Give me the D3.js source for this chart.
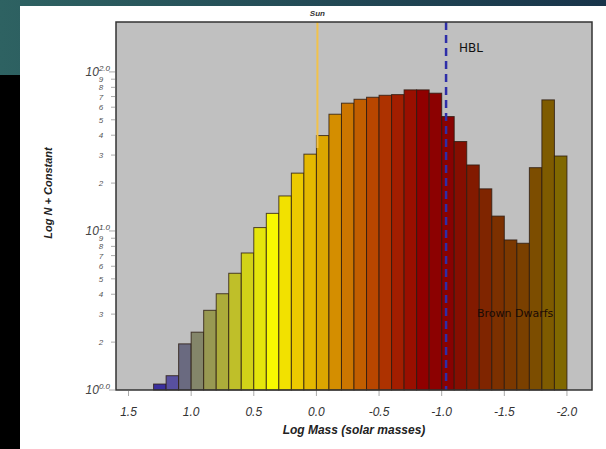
<!DOCTYPE html>
<html>
<head>
<meta charset="utf-8">
<script src="https://cdn.jsdelivr.net/npm/d3@7"></script>
<style>
  body { margin: 0; background: #fff; }
  svg { display: block; }
</style>
</head>
<body>
<div id="chart"></div>
<script>
// bin left edges (log mass), each bin is 0.1 wide going to smaller masses
var binStart = [1.3, 1.2, 1.1, 1.0, 0.9, 0.8, 0.7, 0.6, 0.5, 0.4, 0.3, 0.2, 0.1, 0.0,
  -0.1, -0.2, -0.3, -0.4, -0.5, -0.6, -0.7, -0.8, -0.9, -1.0, -1.1, -1.2, -1.3,
  -1.4, -1.5, -1.6, -1.7, -1.8, -1.9];
// counts (log N + constant)
var counts = [1.09, 1.23, 1.95, 2.31, 3.17, 4.03, 5.42, 7.27, 10.5, 12.9, 16.6, 23.1, 30.4, 39.8,
  54.2, 63.6, 67.3, 69.3, 71.3, 72.0, 77.1, 77.1, 73.5, 52.4, 36.5, 26.0, 18.4,
  12.4, 8.78, 8.37, 25.0, 66.7, 29.6];
var xTicks = [1.5, 1.0, 0.5, 0.0, -0.5, -1.0, -1.5, -2.0];
var yMajor = [1, 10, 100];
var yMinor = [2, 3, 4, 5, 6, 7, 8, 9, 20, 30, 40, 50, 60, 70, 80, 90];
var sunMass = 0.0;
var hblMass = -1.035;

var width = 606, height = 449;
var plotLeft = 116, plotRight = 592, plotTop = 22, plotBottom = 390;

var svg = d3.select("#chart").append("svg")
    .attr("width", width)
    .attr("height", height);

// slide background
var grad = svg.append("defs").append("linearGradient").attr("id", "band");
grad.append("stop").attr("offset", "0%").attr("stop-color", "#2e6262");
grad.append("stop").attr("offset", "100%").attr("stop-color", "#18344a");
svg.append("rect").attr("width", width).attr("height", height).attr("fill", "#000");
svg.append("rect").attr("width", width).attr("height", 75).attr("fill", "url(#band)");
svg.append("rect").attr("x", 20).attr("y", 6).attr("width", width - 20).attr("height", height - 6).attr("fill", "#fff");

// scales
var x = d3.scaleLinear().domain([1.6, -2.2]).range([plotLeft, plotRight]);
var y = d3.scaleLog().domain([1, 206]).range([plotBottom, plotTop]);

var color = d3.scaleLinear()
    .domain([1.3, 1.2, 1.1, 1.0, 0.8, 0.6, 0.4, 0.2, 0.0, -0.2, -0.4, -0.6, -0.8, -1.0, -1.2, -1.4, -1.6, -1.9])
    .range(["#3a2f9e", "#5850a0", "#6a6a80", "#84866a", "#acac3a", "#d2d218", "#f8f800", "#ecca00",
      "#dca600", "#cc7600", "#b84600", "#a21e00", "#900000", "#880202", "#821a00", "#7c3000", "#7a4000", "#806800"]);

// plot area
svg.append("rect")
    .attr("x", plotLeft).attr("y", plotTop)
    .attr("width", plotRight - plotLeft).attr("height", plotBottom - plotTop)
    .attr("fill", "#c0c0c0");

// bars
svg.append("g")
    .selectAll("rect")
    .data(binStart)
    .enter()
    .append("rect")
    .attr("x", function (d) { return x(d); })
    .attr("width", function (d) { return x(d - 0.1) - x(d); })
    .attr("y", function (d, i) { return y(counts[i]); })
    .attr("height", function (d, i) { return y(1) - y(counts[i]); })
    .attr("fill", function (d) { return color(d); })
    .attr("stroke", "#2a1a10")
    .attr("stroke-opacity", 0.8)
    .attr("stroke-width", 1);

// Sun line
svg.append("line")
    .attr("x1", x(sunMass) + 1).attr("x2", x(sunMass) + 1)
    .attr("y1", plotTop).attr("y2", 148)
    .attr("stroke", "#f2c24a")
    .attr("stroke-width", 2);
svg.append("text")
    .attr("x", x(sunMass) + 1).attr("y", 16)
    .attr("text-anchor", "middle")
    .style("font", "italic bold 8px 'Liberation Sans', Arial, sans-serif")
    .attr("fill", "#333")
    .text("Sun");

// HBL line
svg.append("line")
    .attr("x1", x(hblMass)).attr("x2", x(hblMass))
    .attr("y1", plotTop).attr("y2", plotBottom)
    .attr("stroke", "#2e2ea8")
    .attr("stroke-width", 2.5)
    .attr("stroke-dasharray", "8,5");
svg.append("text")
    .attr("x", 459).attr("y", 52)
    .style("font", "12px 'DejaVu Sans', sans-serif")
    .attr("fill", "#111")
    .text("HBL");
svg.append("text")
    .attr("x", 477).attr("y", 317)
    .style("font", "11px 'DejaVu Sans', sans-serif")
    .attr("fill", "#1a0a05")
    .text("Brown Dwarfs");

// frame
svg.append("rect")
    .attr("x", plotLeft).attr("y", plotTop)
    .attr("width", plotRight - plotLeft).attr("height", plotBottom - plotTop)
    .attr("fill", "none")
    .attr("stroke", "#333")
    .attr("stroke-width", 1.5);

// y axis ticks and labels
svg.append("g").selectAll("line")
    .data(yMajor.concat(yMinor))
    .enter().append("line")
    .attr("x1", function (d) { return yMajor.indexOf(d) >= 0 ? 109 : 111; })
    .attr("x2", plotLeft - 1)
    .attr("y1", function (d) { return y(d); })
    .attr("y2", function (d) { return y(d); })
    .attr("stroke", "#aaa");

var major = svg.append("g").selectAll("text")
    .data(yMajor)
    .enter().append("text")
    .attr("x", 110)
    .attr("y", function (d) { return y(d) + 4; })
    .attr("text-anchor", "end")
    .attr("fill", "#444")
    .style("font", "italic 12px 'Liberation Sans', Arial, sans-serif");
major.append("tspan").text("10");
major.append("tspan")
    .attr("dy", -5)
    .style("font-size", "8px")
    .text(function (d) { return Math.log10(d).toFixed(1); });

svg.append("g").selectAll("text")
    .data(yMinor)
    .enter().append("text")
    .attr("x", 101)
    .attr("y", function (d) { return y(d) + 3; })
    .attr("text-anchor", "middle")
    .attr("fill", "#555")
    .style("font", "italic 8px 'Liberation Sans', Arial, sans-serif")
    .text(function (d) { return String(d).charAt(0); });

svg.append("text")
    .attr("transform", "translate(52,193) rotate(-90)")
    .attr("text-anchor", "middle")
    .attr("fill", "#222")
    .style("font", "italic bold 11px 'Liberation Sans', Arial, sans-serif")
    .text("Log N + Constant");

// x axis ticks and labels
svg.append("g").selectAll("line")
    .data(xTicks)
    .enter().append("line")
    .attr("x1", function (d) { return x(d); })
    .attr("x2", function (d) { return x(d); })
    .attr("y1", plotBottom + 1).attr("y2", plotBottom + 6)
    .attr("stroke", "#aaa");

svg.append("g").selectAll("text")
    .data(xTicks)
    .enter().append("text")
    .attr("x", function (d) { return x(d); })
    .attr("y", 416)
    .attr("text-anchor", "middle")
    .attr("fill", "#333")
    .style("font", "italic 12px 'Liberation Sans', Arial, sans-serif")
    .text(function (d) { return d.toFixed(1); });

svg.append("text")
    .attr("x", (plotLeft + plotRight) / 2)
    .attr("y", 434)
    .attr("text-anchor", "middle")
    .attr("fill", "#222")
    .style("font", "italic bold 12px 'Liberation Sans', Arial, sans-serif")
    .text("Log Mass (solar masses)");
</script>
</body>
</html>
